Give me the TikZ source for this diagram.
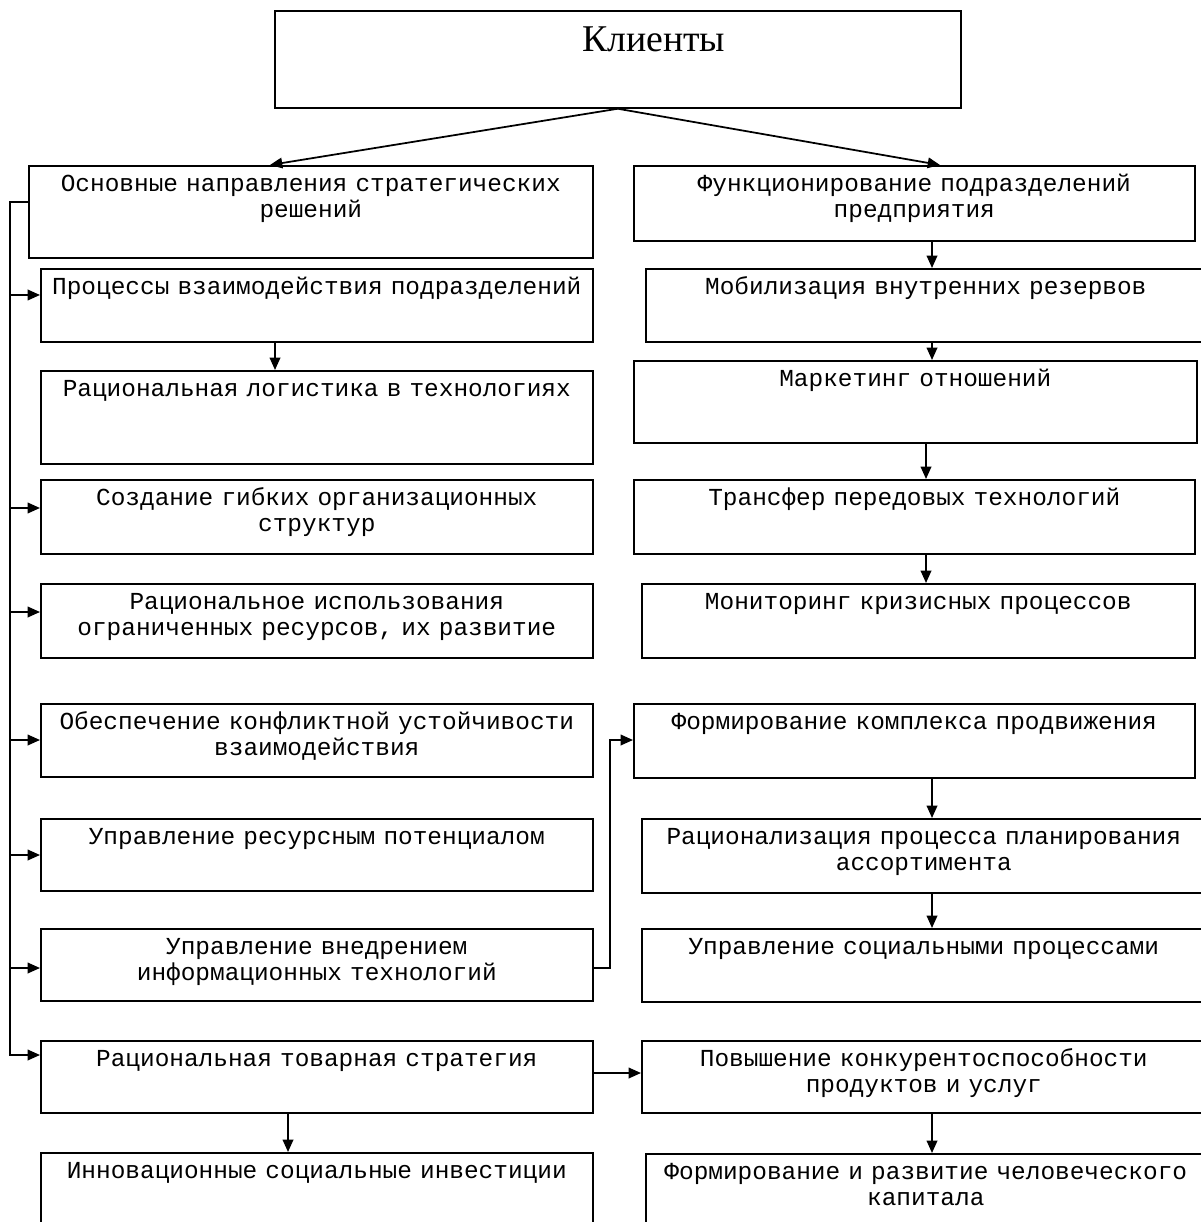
\documentclass[tikz,border=0pt]{standalone}
\usepackage{fontspec}
\setmainfont{Liberation Serif}
\newfontfamily\monofont{Liberation Mono}
\usepackage{tikz}
\usetikzlibrary{arrows.meta, positioning, calc}

\begin{document}
\begin{tikzpicture}[x=0.02cm, y=-0.02cm,
    block/.style={draw, line width=1pt, anchor=north west, inner sep=0pt,
                  align=center, text height=14.8pt,
                  font=\monofont\fontsize{13.9}{14.5}\selectfont},
    size/.style 2 args={text width={#1*0.569pt}, text depth={#2*0.569pt-14.8pt}},
    arr/.style={line width=1pt, -{Triangle[length=7pt, width=6pt]}}
]
\useasboundingbox (0,0) rectangle (1200,1222);

% top box
\node[block, size={686}{97}, text height=23pt, text depth=32.2pt,
      font=\fontsize{21.5}{24}\selectfont] (clients) at (274,10) {\hspace*{41pt}Клиенты};

% left column
\node[block, size={564}{92}] (s1) at (28,165) {Основные направления стратегических\\решений};
\node[block, size={552}{73}] (l1) at (40,268) {Процессы взаимодействия подразделений};
\node[block, size={552}{93}] (l2) at (40,370) {Рациональная логистика в технологиях};
\node[block, size={552}{74}] (l3) at (40,479) {Создание гибких организационных\\структур};
\node[block, size={552}{74}] (l4) at (40,583) {Рациональное использования\\ограниченных ресурсов, их развитие};
\node[block, size={552}{73}] (l5) at (40,703) {Обеспечение конфликтной устойчивости\\взаимодействия};
\node[block, size={552}{72}] (l6) at (40,818) {Управление ресурсным потенциалом};
\node[block, size={552}{72}] (l7) at (40,928) {Управление внедрением\\информационных технологий};
\node[block, size={552}{72}] (l8) at (40,1040) {Рациональная товарная стратегия};
\node[block, size={552}{90}] (l9) at (40,1152) {Инновационные социальные инвестиции};

% right column
\node[block, size={561}{75}] (r1) at (633,165) {Функционирование подразделений\\предприятия};
\node[block, size={560}{73}] (r2) at (645,268) {Мобилизация внутренних резервов};
\node[block, size={563}{82}] (r3) at (633,360) {Маркетинг отношений};
\node[block, size={561}{74}] (r4) at (633,479) {Трансфер передовых технологий};
\node[block, size={553}{74}] (r5) at (641,583) {Мониторинг кризисных процессов};
\node[block, size={561}{74}] (r6) at (633,703) {Формирование комплекса продвижения};
\node[block, size={564}{74}] (r7) at (641,818) {Рационализация процесса планирования\\ассортимента};
\node[block, size={564}{73}] (r8) at (641,928) {Управление социальными процессами};
\node[block, size={564}{72}] (r9) at (641,1040) {Повышение конкурентоспособности\\продуктов и услуг};
\node[block, size={560}{90}] (r10) at (645,1153) {Формирование и развитие человеческого\\капитала};

% from the top box
\draw[arr] (clients.south) -- ($(s1.north west)+(242,0)$);
\draw[arr] (clients.south) -- ($(r1.north west)+(307,0)$);

% left rail
\draw[arr] ($(s1.north west)+(0,37)$) -| ($(l8.north west)+(-30,15)$) -- ($(l8.north west)+(0,15)$);
\foreach \b/\d in {l1/27, l3/29, l4/29, l5/37, l6/37, l7/40}
  \draw[arr] ($(\b.north west)+(-30,\d)$) -- ($(\b.north west)+(0,\d)$);

\draw[arr] ($(l1.south west)+(235,0)$) -- ($(l2.north west)+(235,0)$);
\draw[arr] ($(l8.south west)+(248,0)$) -- ($(l9.north west)+(248,0)$);

% right chain
\foreach \a/\b/\x in {r1/r2/932, r2/r3/932, r3/r4/926, r4/r5/926, r6/r7/932, r7/r8/932, r9/r10/932}{
  \path (\x,0) coordinate (cx);
  \draw[arr] (\a.south -| cx) -- (\b.north -| cx);
}

% across
\draw[arr] ($(l7.north east)+(0,40)$) -| ($(r6.north west)+(-23,37)$) -- ($(r6.north west)+(0,37)$);
\draw[arr] ($(l8.north east)+(0,33)$) -- ($(r9.north west)+(0,33)$);
\end{tikzpicture}
\end{document}
